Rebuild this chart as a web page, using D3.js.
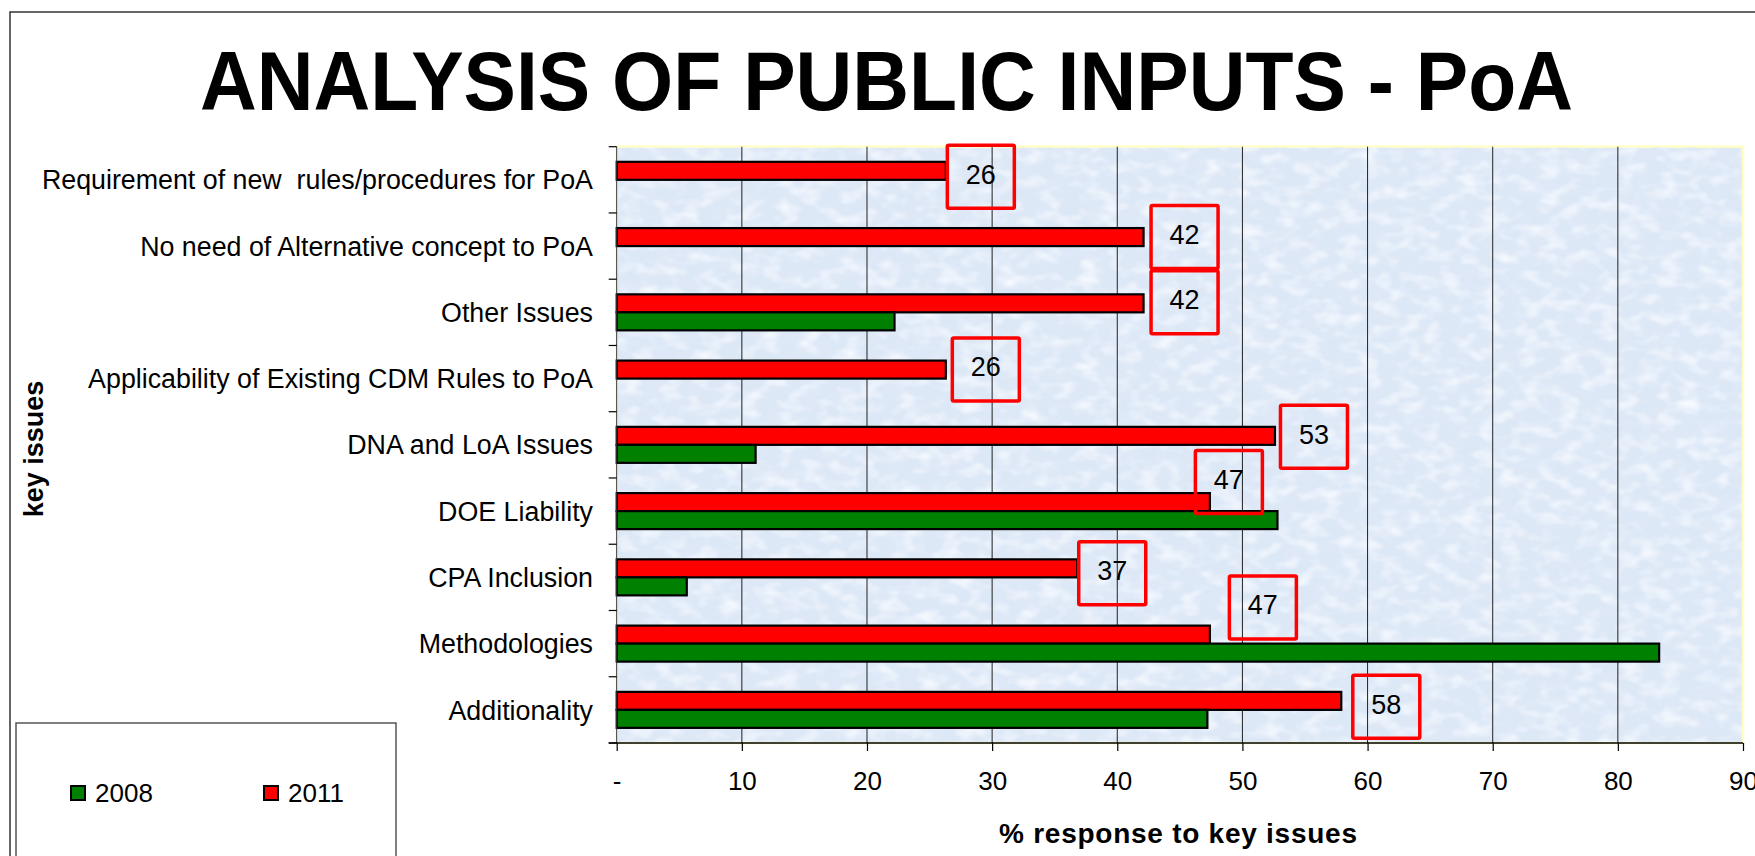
<!DOCTYPE html>
<html>
<head>
<meta charset="utf-8">
<script src="https://cdn.jsdelivr.net/npm/d3@7"></script>
<style>
  body { margin: 0; background: #fff; }
  svg { display: block; font-family: "Liberation Sans", Arial, sans-serif; }
</style>
</head>
<body>
<div id="chart"></div>
<script>
// data
let categories = [
    "Requirement of new  rules/procedures for PoA",
    "No need of Alternative concept to PoA",
    "Other Issues",
    "Applicability of Existing CDM Rules to PoA",
    "DNA and LoA Issues",
    "DOE Liability",
    "CPA Inclusion",
    "Methodologies",
    "Additionality"
];
let series = ["2011", "2008"];
let values2011 = [26.3, 42.1, 42.1, 26.3, 52.6, 47.4, 36.8, 47.4, 57.9];
let values2008 = [null, null, 22.2, null, 11.1, 52.8, 5.6, 83.3, 47.2];
let xTicks = [0, 10, 20, 30, 40, 50, 60, 70, 80, 90];
let legendItems = ["2008", "2011"];

// hand placed value boxes (pixel nudges from bar end / band centre)
let boxNudge = [[0, -3], [6, -9], [6, -10], [5, -9], [4, -8], [-16, -29], [0, -4], [18, -36], [10, -3]];

let colors = {"2008": "#008000", "2011": "#ff0000"};

let width = 1755, height = 856;
let plot = {left: 616.7, right: 1743, top: 146.7, bottom: 743};

let svg = d3.select("#chart").append("svg")
    .attr("width", width)
    .attr("height", height);

// mottled "texture" fill of the plot area
let defs = svg.append("defs");
let tex = defs.append("filter").attr("id", "tex")
    .attr("x", 0).attr("y", 0).attr("width", 1).attr("height", 1);
tex.append("feTurbulence")
    .attr("type", "fractalNoise")
    .attr("baseFrequency", "0.06 0.1")
    .attr("numOctaves", 3)
    .attr("seed", 7);
tex.append("feColorMatrix")
    .attr("type", "matrix")
    .attr("values", "0 0 0 0 0.74  0 0 0 0 0.81  0 0 0 0 0.91  2.2 0 0 0 -1.0");
let tex2 = defs.append("filter").attr("id", "tex2")
    .attr("x", 0).attr("y", 0).attr("width", 1).attr("height", 1);
tex2.append("feTurbulence")
    .attr("type", "fractalNoise")
    .attr("baseFrequency", "0.05 0.08")
    .attr("numOctaves", 2)
    .attr("seed", 21);
tex2.append("feColorMatrix")
    .attr("type", "matrix")
    .attr("values", "0 0 0 0 0.93  0 0 0 0 0.96  0 0 0 0 1  2.2 0 0 0 -1.0");

// outer frame
svg.append("rect")
    .attr("x", 10).attr("y", 12)
    .attr("width", width + 20).attr("height", height + 20)
    .attr("fill", "none")
    .attr("stroke", "#333")
    .attr("stroke-width", 1.5);

// title
svg.append("text")
    .attr("x", 200).attr("y", 110)
    .attr("textLength", 1373)
    .attr("lengthAdjust", "spacingAndGlyphs")
    .attr("font-size", 84)
    .attr("font-weight", "bold")
    .text("ANALYSIS OF PUBLIC INPUTS - PoA");

let x = d3.scaleLinear().domain([0, 90]).range([plot.left, plot.right]);
let y = d3.scaleBand().domain(categories).range([plot.top, plot.bottom]);
let ySub = d3.scaleBand().domain(series).range([0, y.bandwidth()])
    .paddingInner(0).paddingOuter(0.84);

// plot background
svg.append("rect")
    .attr("x", plot.left).attr("y", plot.top)
    .attr("width", plot.right - plot.left).attr("height", plot.bottom - plot.top)
    .attr("fill", "#dde8f7")
    .attr("stroke", "#ffffc4")
    .attr("stroke-width", 2.5);
["url(#tex)", "url(#tex2)"].forEach(f => {
    svg.append("rect")
        .attr("x", plot.left + 1).attr("y", plot.top + 1)
        .attr("width", plot.right - plot.left - 2).attr("height", plot.bottom - plot.top - 2)
        .attr("filter", f);
});

// vertical grid
svg.append("g").selectAll("line")
    .data(xTicks.filter(d => d > 0 && d < 90))
    .enter().append("line")
    .attr("x1", d => x(d)).attr("x2", d => x(d))
    .attr("y1", plot.top).attr("y2", plot.bottom)
    .attr("stroke", "#222")
    .attr("stroke-width", 1);

// bars
let rows = categories.map((c, i) => ({cat: c, "2011": values2011[i], "2008": values2008[i], i: i}));

let barG = svg.append("g");
series.forEach(s => {
    barG.selectAll(".bar" + s)
        .data(rows.filter(r => r[s] != null))
        .enter().append("rect")
        .attr("x", x(0))
        .attr("y", d => y(d.cat) + ySub(s))
        .attr("width", d => x(d[s]) - x(0))
        .attr("height", ySub.bandwidth())
        .attr("fill", colors[s])
        .attr("stroke", "#000")
        .attr("stroke-width", 2.2);
});

// red value boxes
let fmt = d3.format(".0f");
let boxW = 70, boxH = 66;
let boxes = svg.append("g").selectAll("g")
    .data(rows)
    .enter().append("g")
    .attr("transform", d => {
        let bx = x(d["2011"]) + boxNudge[d.i][0];
        let by = y(d.cat) + y.bandwidth() / 2 + boxNudge[d.i][1] - boxH / 2;
        return "translate(" + bx + "," + by + ")";
    });
boxes.append("rect")
    .attr("x", 1.5).attr("y", 1.5)
    .attr("width", boxW - 3).attr("height", boxH - 3)
    .attr("rx", 1.5)
    .attr("fill", "none")
    .attr("stroke", "#ff0000")
    .attr("stroke-width", 3.5);
boxes.append("text")
    .attr("x", boxW / 2).attr("y", boxH / 2 - 3)
    .attr("dy", "0.36em")
    .attr("text-anchor", "middle")
    .attr("font-size", 27)
    .text(d => fmt(d["2011"]));

// y axis: line, ticks at band edges, labels
let yAxis = svg.append("g");
yAxis.append("line")
    .attr("x1", plot.left).attr("x2", plot.left)
    .attr("y1", plot.top).attr("y2", plot.bottom)
    .attr("stroke", "#333").attr("stroke-width", 1);
yAxis.selectAll(".ytick")
    .data(categories.map(c => y(c)).concat([plot.bottom]))
    .enter().append("line")
    .attr("x1", plot.left - 8).attr("x2", plot.left)
    .attr("y1", d => d).attr("y2", d => d)
    .attr("stroke", "#000").attr("stroke-width", 1.2);
yAxis.selectAll(".ylab")
    .data(categories)
    .enter().append("text")
    .attr("x", 593)
    .attr("y", d => y(d) + y.bandwidth() / 2)
    .attr("dy", "0.36em")
    .attr("text-anchor", "end")
    .attr("font-size", 26.8)
    .style("white-space", "pre")
    .text(d => d);

// x axis
let xAxis = d3.axisBottom(x)
    .tickValues(xTicks)
    .tickSize(8)
    .tickPadding(21)
    .tickFormat(d => d === 0 ? "-" : d);
let xg = svg.append("g")
    .attr("transform", "translate(0," + plot.bottom + ")")
    .call(xAxis);
xg.select(".domain").remove();
xg.append("line")
    .attr("x1", plot.left - 8).attr("x2", plot.right)
    .attr("stroke", "#000").attr("stroke-width", 1.5);
xg.selectAll(".tick line").attr("stroke", "#000").attr("stroke-width", 1.2);
xg.selectAll(".tick text")
    .attr("font-size", 26)
    .attr("font-family", "Liberation Sans, Arial, sans-serif")
    .attr("fill", "#000");

// axis titles
svg.append("text")
    .attr("x", (999 + 1357) / 2).attr("y", 843)
    .attr("text-anchor", "middle")
    .attr("font-size", 28)
    .attr("font-weight", "bold")
    .attr("textLength", 358)
    .attr("lengthAdjust", "spacing")
    .text("% response to key issues");

svg.append("text")
    .attr("transform", "translate(43,449) rotate(-90)")
    .attr("text-anchor", "middle")
    .attr("font-size", 27)
    .attr("font-weight", "bold")
    .text("key issues");

// legend
let lg = svg.append("g");
lg.append("rect")
    .attr("x", 16).attr("y", 723)
    .attr("width", 380).attr("height", 200)
    .attr("fill", "#fff")
    .attr("stroke", "#555")
    .attr("stroke-width", 1.5);
let lgItem = lg.selectAll(".lgItem")
    .data(legendItems)
    .enter().append("g")
    .attr("transform", (d, i) => "translate(" + (70 + i * 193) + ",785)");
lgItem.append("rect")
    .attr("x", 1).attr("y", 1)
    .attr("width", 14).attr("height", 14)
    .attr("fill", d => colors[d])
    .attr("stroke", "#000")
    .attr("stroke-width", 2);
lgItem.append("text")
    .attr("x", 25).attr("y", 8)
    .attr("dy", "0.36em")
    .attr("font-size", 26)
    .text(d => d);
</script>
</body>
</html>
